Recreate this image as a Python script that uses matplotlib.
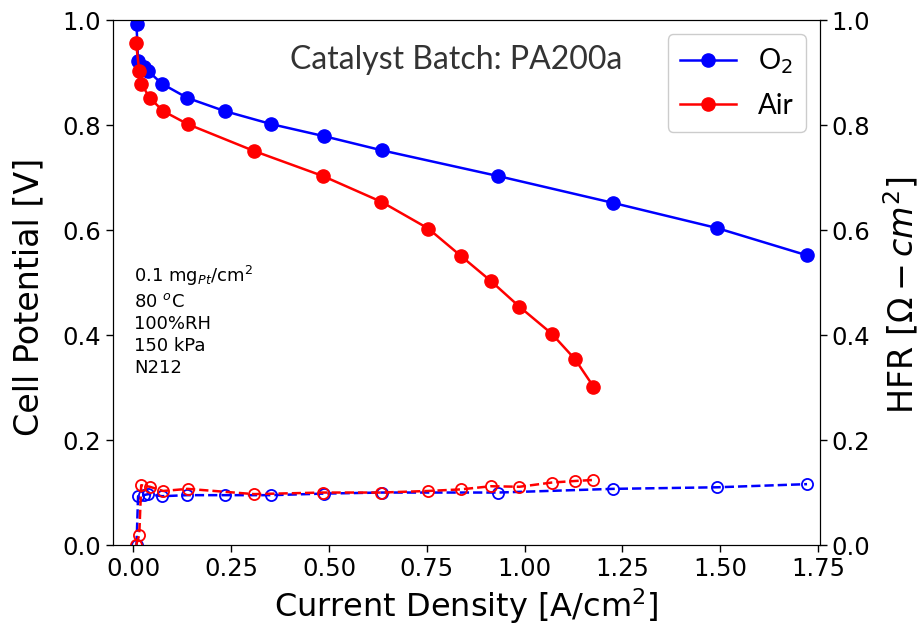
import matplotlib
matplotlib.use("Agg")
import matplotlib.pyplot as plt

# Polarization data: current density [A/cm2] and cell potential [V]
o2_current = [0.008, 0.012, 0.026, 0.038, 0.073, 0.138, 0.233, 0.353, 0.488,
              0.636, 0.933, 1.226, 1.492, 1.722]
o2_voltage = [0.992, 0.922, 0.910, 0.903, 0.879, 0.852, 0.827, 0.802, 0.779,
              0.752, 0.703, 0.652, 0.604, 0.552]
o2_hfr = [0.0, 0.093, 0.095, 0.097, 0.093, 0.095, 0.095, 0.095, 0.098,
          0.100, 0.100, 0.107, 0.110, 0.116]

air_current = [0.007, 0.015, 0.020, 0.042, 0.076, 0.139, 0.308, 0.485, 0.634,
               0.754, 0.837, 0.914, 0.987, 1.069, 1.129, 1.176]
air_voltage = [0.956, 0.903, 0.879, 0.852, 0.827, 0.802, 0.751, 0.703, 0.654,
               0.603, 0.551, 0.503, 0.454, 0.403, 0.354, 0.302]
air_hfr = [0.0, 0.019, 0.114, 0.111, 0.103, 0.107, 0.097, 0.100, 0.100,
           0.103, 0.106, 0.112, 0.111, 0.119, 0.122, 0.124]

x_ticks = [0.00, 0.25, 0.50, 0.75, 1.00, 1.25, 1.50, 1.75]
y_ticks = [0.0, 0.2, 0.4, 0.6, 0.8, 1.0]

conditions = "0.1 mg$_{Pt}$/cm$^2$\n80 $^o$C\n100%RH\n150 kPa\nN212"
batch_label = "Catalyst Batch: PA200a"

fig = plt.figure(figsize=(9.22, 6.33), dpi=100)
ax = fig.add_axes([0.1226, 0.139, 0.7667, 0.829])
ax2 = ax.twinx()

ax.plot(o2_current, o2_voltage, "-o", color="blue", lw=1.8, ms=9.5, label="O$_2$")
ax.plot(air_current, air_voltage, "-o", color="red", lw=1.8, ms=9.5, label="Air")

ax2.plot(o2_current, o2_hfr, "--o", color="blue", lw=1.8, ms=8,
         mfc="none", mew=1.3)
ax2.plot(air_current, air_hfr, "--o", color="red", lw=1.8, ms=8,
         mfc="none", mew=1.3)

ax.set_xlim(-0.052, 1.755)
ax.set_ylim(0, 1.0)
ax2.set_ylim(0, 1.0)
ax.set_xticks(x_ticks)
ax.set_xticklabels([f"{t:.2f}" for t in x_ticks])
ax.set_yticks(y_ticks)
ax2.set_yticks(y_ticks)

tick_fs = 17.5
ax.tick_params(labelsize=tick_fs, length=5, width=1.0)
ax2.tick_params(labelsize=tick_fs, length=5, width=1.0)

ax.set_xlabel("Current Density [A/cm$^2$]", fontsize=23, labelpad=4)
ax.set_ylabel("Cell Potential [V]", fontsize=24)
ax2.set_ylabel(r"HFR [$\Omega - cm^2$]", fontsize=24)
ax.yaxis.set_label_coords(-0.096, 0.472)
ax2.yaxis.set_label_coords(1.087, 0.476)

ax.text(0.03, 0.535, conditions, transform=ax.transAxes, fontsize=13,
        va="top", ha="left", linespacing=1.3)

ax.text(0.485, 0.925, batch_label, transform=ax.transAxes, fontsize=23,
        family="Lato", color="#333333", ha="center", va="center")

leg = ax.legend(loc="upper right", prop={"family": "Lato", "size": 20},
                borderpad=0.45, handlelength=2.0, framealpha=1.0,
                labelspacing=0.6)
leg.get_frame().set_edgecolor("#cccccc")

fig.savefig("out.png", dpi=100)
